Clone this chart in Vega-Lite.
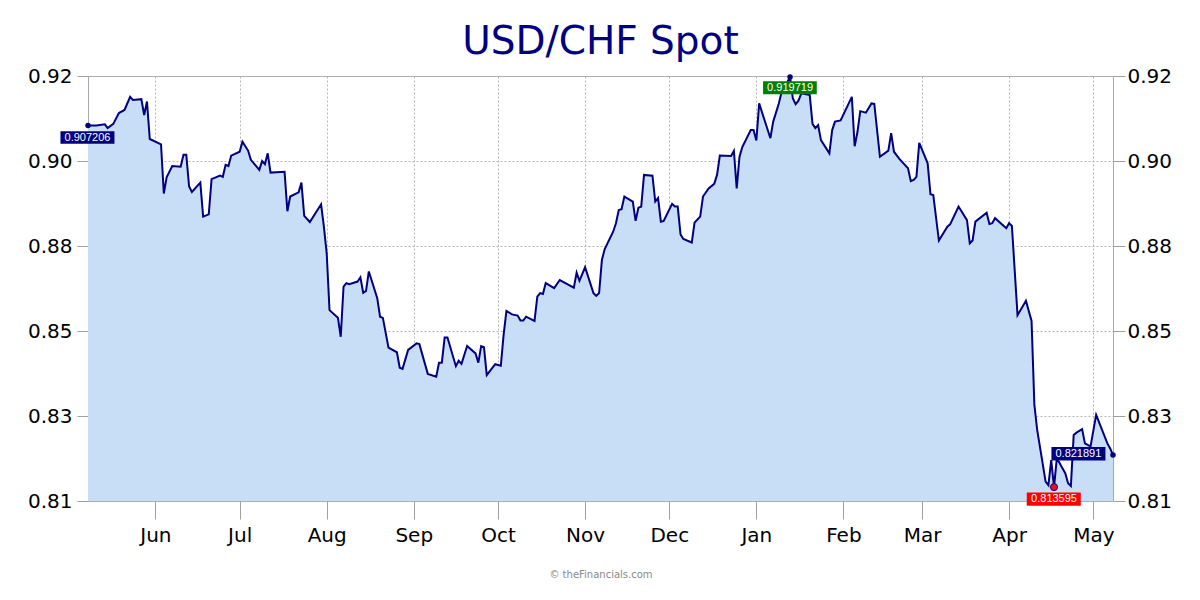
{
  "$schema": "https://vega.github.io/schema/vega-lite/v6.json",
  "width": 1025,
  "height": 425,
  "autosize": {"type": "none"},
  "padding": {"left": 88, "top": 76, "right": 87, "bottom": 99},
  "background": "white",
  "title": {"text": "USD/CHF Spot", "font": "DejaVu Sans", "fontSize": 39, "fontWeight": "normal", "color": "#000080", "anchor": "middle", "baseline": "bottom", "offset": 3, "dy": 38},
  "config": {"view": {"stroke": "#a8a8a8", "strokeWidth": 1}, "font": "DejaVu Sans"},
  "data": {"values": [
    {"date": "2024-05-08", "value": 0.907206, "note": "start"},
    {"date": "2024-05-11", "value": 0.9072},
    {"date": "2024-05-14", "value": 0.9075},
    {"date": "2024-05-15", "value": 0.9065},
    {"date": "2024-05-17", "value": 0.9076},
    {"date": "2024-05-19", "value": 0.9104},
    {"date": "2024-05-21", "value": 0.9112},
    {"date": "2024-05-23", "value": 0.9146},
    {"date": "2024-05-24", "value": 0.9138},
    {"date": "2024-05-27", "value": 0.9140},
    {"date": "2024-05-28", "value": 0.9099},
    {"date": "2024-05-29", "value": 0.9134},
    {"date": "2024-05-30", "value": 0.9037},
    {"date": "2024-06-03", "value": 0.9023},
    {"date": "2024-06-04", "value": 0.8896},
    {"date": "2024-06-05", "value": 0.8938},
    {"date": "2024-06-07", "value": 0.8967},
    {"date": "2024-06-10", "value": 0.8965},
    {"date": "2024-06-11", "value": 0.8996},
    {"date": "2024-06-12", "value": 0.8996},
    {"date": "2024-06-13", "value": 0.8914},
    {"date": "2024-06-14", "value": 0.8900},
    {"date": "2024-06-17", "value": 0.8924},
    {"date": "2024-06-18", "value": 0.8836},
    {"date": "2024-06-20", "value": 0.8842},
    {"date": "2024-06-21", "value": 0.8933},
    {"date": "2024-06-24", "value": 0.8942},
    {"date": "2024-06-25", "value": 0.8939},
    {"date": "2024-06-26", "value": 0.8970},
    {"date": "2024-06-27", "value": 0.8967},
    {"date": "2024-06-28", "value": 0.8994},
    {"date": "2024-07-01", "value": 0.9004},
    {"date": "2024-07-02", "value": 0.9030},
    {"date": "2024-07-04", "value": 0.9007},
    {"date": "2024-07-05", "value": 0.8983},
    {"date": "2024-07-08", "value": 0.8957},
    {"date": "2024-07-09", "value": 0.8980},
    {"date": "2024-07-10", "value": 0.8972},
    {"date": "2024-07-11", "value": 0.9000},
    {"date": "2024-07-12", "value": 0.8950},
    {"date": "2024-07-17", "value": 0.8952},
    {"date": "2024-07-18", "value": 0.8850},
    {"date": "2024-07-19", "value": 0.8888},
    {"date": "2024-07-22", "value": 0.8899},
    {"date": "2024-07-23", "value": 0.8924},
    {"date": "2024-07-24", "value": 0.8838},
    {"date": "2024-07-26", "value": 0.8822},
    {"date": "2024-07-30", "value": 0.8868},
    {"date": "2024-07-31", "value": 0.8810},
    {"date": "2024-08-01", "value": 0.8741},
    {"date": "2024-08-02", "value": 0.8594},
    {"date": "2024-08-05", "value": 0.8574},
    {"date": "2024-08-06", "value": 0.8525},
    {"date": "2024-08-07", "value": 0.8655},
    {"date": "2024-08-08", "value": 0.8664},
    {"date": "2024-08-09", "value": 0.8661},
    {"date": "2024-08-12", "value": 0.8668},
    {"date": "2024-08-13", "value": 0.8679},
    {"date": "2024-08-14", "value": 0.8639},
    {"date": "2024-08-15", "value": 0.8644},
    {"date": "2024-08-16", "value": 0.8694},
    {"date": "2024-08-19", "value": 0.8625},
    {"date": "2024-08-20", "value": 0.8577},
    {"date": "2024-08-21", "value": 0.8574},
    {"date": "2024-08-23", "value": 0.8497},
    {"date": "2024-08-26", "value": 0.8485},
    {"date": "2024-08-27", "value": 0.8445},
    {"date": "2024-08-28", "value": 0.8442},
    {"date": "2024-08-30", "value": 0.8491},
    {"date": "2024-09-02", "value": 0.8508},
    {"date": "2024-09-03", "value": 0.8506},
    {"date": "2024-09-06", "value": 0.8429},
    {"date": "2024-09-09", "value": 0.8422},
    {"date": "2024-09-10", "value": 0.8458},
    {"date": "2024-09-11", "value": 0.8458},
    {"date": "2024-09-12", "value": 0.8523},
    {"date": "2024-09-13", "value": 0.8523},
    {"date": "2024-09-16", "value": 0.8449},
    {"date": "2024-09-17", "value": 0.8463},
    {"date": "2024-09-18", "value": 0.8455},
    {"date": "2024-09-20", "value": 0.8501},
    {"date": "2024-09-23", "value": 0.8482},
    {"date": "2024-09-24", "value": 0.8458},
    {"date": "2024-09-25", "value": 0.8501},
    {"date": "2024-09-26", "value": 0.8498},
    {"date": "2024-09-27", "value": 0.8426},
    {"date": "2024-09-30", "value": 0.8454},
    {"date": "2024-10-02", "value": 0.8450},
    {"date": "2024-10-03", "value": 0.8530},
    {"date": "2024-10-04", "value": 0.8592},
    {"date": "2024-10-06", "value": 0.8583},
    {"date": "2024-10-08", "value": 0.8580},
    {"date": "2024-10-09", "value": 0.8567},
    {"date": "2024-10-10", "value": 0.8567},
    {"date": "2024-10-11", "value": 0.8577},
    {"date": "2024-10-14", "value": 0.8566},
    {"date": "2024-10-15", "value": 0.8629},
    {"date": "2024-10-16", "value": 0.8638},
    {"date": "2024-10-17", "value": 0.8636},
    {"date": "2024-10-18", "value": 0.8664},
    {"date": "2024-10-21", "value": 0.8651},
    {"date": "2024-10-23", "value": 0.8672},
    {"date": "2024-10-25", "value": 0.8664},
    {"date": "2024-10-28", "value": 0.8652},
    {"date": "2024-10-29", "value": 0.8691},
    {"date": "2024-10-30", "value": 0.8670},
    {"date": "2024-11-01", "value": 0.8705},
    {"date": "2024-11-04", "value": 0.8638},
    {"date": "2024-11-05", "value": 0.8631},
    {"date": "2024-11-06", "value": 0.8638},
    {"date": "2024-11-07", "value": 0.8724},
    {"date": "2024-11-08", "value": 0.8752},
    {"date": "2024-11-11", "value": 0.8797},
    {"date": "2024-11-12", "value": 0.8819},
    {"date": "2024-11-13", "value": 0.8853},
    {"date": "2024-11-14", "value": 0.8855},
    {"date": "2024-11-15", "value": 0.8888},
    {"date": "2024-11-18", "value": 0.8875},
    {"date": "2024-11-19", "value": 0.8825},
    {"date": "2024-11-20", "value": 0.8859},
    {"date": "2024-11-21", "value": 0.8862},
    {"date": "2024-11-22", "value": 0.8944},
    {"date": "2024-11-25", "value": 0.8942},
    {"date": "2024-11-26", "value": 0.8875},
    {"date": "2024-11-27", "value": 0.8884},
    {"date": "2024-11-28", "value": 0.8823},
    {"date": "2024-11-29", "value": 0.8825},
    {"date": "2024-12-02", "value": 0.8869},
    {"date": "2024-12-03", "value": 0.8862},
    {"date": "2024-12-04", "value": 0.8862},
    {"date": "2024-12-05", "value": 0.8790},
    {"date": "2024-12-06", "value": 0.8778},
    {"date": "2024-12-09", "value": 0.8769},
    {"date": "2024-12-10", "value": 0.8821},
    {"date": "2024-12-12", "value": 0.8836},
    {"date": "2024-12-13", "value": 0.8888},
    {"date": "2024-12-15", "value": 0.8909},
    {"date": "2024-12-17", "value": 0.8921},
    {"date": "2024-12-18", "value": 0.8944},
    {"date": "2024-12-19", "value": 0.8994},
    {"date": "2024-12-23", "value": 0.8993},
    {"date": "2024-12-24", "value": 0.9006},
    {"date": "2024-12-25", "value": 0.8909},
    {"date": "2024-12-26", "value": 0.8991},
    {"date": "2024-12-27", "value": 0.9016},
    {"date": "2024-12-30", "value": 0.9060},
    {"date": "2024-12-31", "value": 0.9060},
    {"date": "2025-01-01", "value": 0.9033},
    {"date": "2025-01-02", "value": 0.9129},
    {"date": "2025-01-06", "value": 0.9039},
    {"date": "2025-01-07", "value": 0.9082},
    {"date": "2025-01-09", "value": 0.9129},
    {"date": "2025-01-10", "value": 0.9159},
    {"date": "2025-01-11", "value": 0.9171},
    {"date": "2025-01-13", "value": 0.919719, "note": "max"},
    {"date": "2025-01-14", "value": 0.9142},
    {"date": "2025-01-15", "value": 0.9127},
    {"date": "2025-01-16", "value": 0.9136},
    {"date": "2025-01-17", "value": 0.9155},
    {"date": "2025-01-20", "value": 0.9151},
    {"date": "2025-01-21", "value": 0.9076},
    {"date": "2025-01-22", "value": 0.9065},
    {"date": "2025-01-23", "value": 0.9073},
    {"date": "2025-01-24", "value": 0.9034},
    {"date": "2025-01-27", "value": 0.9000},
    {"date": "2025-01-28", "value": 0.9060},
    {"date": "2025-01-29", "value": 0.9082},
    {"date": "2025-01-31", "value": 0.9085},
    {"date": "2025-02-04", "value": 0.9146},
    {"date": "2025-02-05", "value": 0.9018},
    {"date": "2025-02-06", "value": 0.9055},
    {"date": "2025-02-07", "value": 0.9109},
    {"date": "2025-02-09", "value": 0.9105},
    {"date": "2025-02-11", "value": 0.9129},
    {"date": "2025-02-12", "value": 0.9128},
    {"date": "2025-02-14", "value": 0.8991},
    {"date": "2025-02-17", "value": 0.9007},
    {"date": "2025-02-18", "value": 0.9052},
    {"date": "2025-02-19", "value": 0.9004},
    {"date": "2025-02-21", "value": 0.8985},
    {"date": "2025-02-24", "value": 0.8961},
    {"date": "2025-02-25", "value": 0.8928},
    {"date": "2025-02-26", "value": 0.8931},
    {"date": "2025-02-27", "value": 0.8939},
    {"date": "2025-02-28", "value": 0.9027},
    {"date": "2025-03-03", "value": 0.8974},
    {"date": "2025-03-04", "value": 0.8894},
    {"date": "2025-03-05", "value": 0.8892},
    {"date": "2025-03-07", "value": 0.8774},
    {"date": "2025-03-10", "value": 0.8810},
    {"date": "2025-03-11", "value": 0.8816},
    {"date": "2025-03-14", "value": 0.8862},
    {"date": "2025-03-17", "value": 0.8827},
    {"date": "2025-03-18", "value": 0.8767},
    {"date": "2025-03-19", "value": 0.8774},
    {"date": "2025-03-20", "value": 0.8823},
    {"date": "2025-03-24", "value": 0.8846},
    {"date": "2025-03-25", "value": 0.8817},
    {"date": "2025-03-26", "value": 0.8819},
    {"date": "2025-03-27", "value": 0.8832},
    {"date": "2025-03-31", "value": 0.8806},
    {"date": "2025-04-01", "value": 0.8819},
    {"date": "2025-04-02", "value": 0.8812},
    {"date": "2025-04-04", "value": 0.8581},
    {"date": "2025-04-07", "value": 0.8618},
    {"date": "2025-04-09", "value": 0.8566},
    {"date": "2025-04-10", "value": 0.8349},
    {"date": "2025-04-11", "value": 0.8284},
    {"date": "2025-04-14", "value": 0.8150},
    {"date": "2025-04-15", "value": 0.8141},
    {"date": "2025-04-16", "value": 0.8206},
    {"date": "2025-04-17", "value": 0.813595, "note": "min"},
    {"date": "2025-04-18", "value": 0.8211},
    {"date": "2025-04-20", "value": 0.8185},
    {"date": "2025-04-21", "value": 0.8172},
    {"date": "2025-04-22", "value": 0.8146},
    {"date": "2025-04-23", "value": 0.8139},
    {"date": "2025-04-24", "value": 0.8271},
    {"date": "2025-04-25", "value": 0.8277},
    {"date": "2025-04-27", "value": 0.8286},
    {"date": "2025-04-28", "value": 0.8249},
    {"date": "2025-04-29", "value": 0.8245},
    {"date": "2025-04-30", "value": 0.8241},
    {"date": "2025-05-02", "value": 0.8323},
    {"date": "2025-05-06", "value": 0.8249},
    {"date": "2025-05-07", "value": 0.8236},
    {"date": "2025-05-08", "value": 0.821891, "note": "end"}
  ]},
  "encoding": {
    "x": {
      "field": "date", "type": "temporal",
      "scale": {"type": "utc", "domain": [{"year": 2024, "month": 5, "date": 8, "utc": true}, {"year": 2025, "month": 5, "date": 8, "utc": true}]},
      "axis": {
        "tickCount": {"interval": "month", "step": 1},
        "labelExpr": "utcFormat(datum.value, '%b')",
        "labelFontSize": 20, "labelColor": "#000000", "labelFont": "DejaVu Sans",
        "tickSize": 18, "labelPadding": 6, "tickColor": "#a0a0a0",
        "domain": false,
        "grid": true, "gridDash": [2, 2], "gridColor": "#b4b4b4",
        "title": "© theFinancials.com", "titleFontSize": 10, "titleFontWeight": "normal", "titleColor": "#888888", "titlePadding": 24, "titleFont": "DejaVu Sans"
      }
    }
  },
  "layer": [
    {
      "mark": {"type": "area", "color": "#c8def6", "clip": true},
      "encoding": {
        "y": {"field": "value", "type": "quantitative",
          "scale": {"domain": [0.81, 0.92], "nice": false, "zero": false},
          "axis": {"orient": "left", "values": [0.81, 0.832, 0.854, 0.876, 0.898, 0.92], "format": ".2f", "title": null,
            "labelFontSize": 20, "labelColor": "#000000", "labelFont": "DejaVu Sans", "tickSize": 11, "labelPadding": 5, "tickColor": "#a0a0a0",
            "domain": false, "grid": true, "gridDash": [2, 2], "gridColor": "#b4b4b4"}}
      }
    },
    {
      "mark": {"type": "line", "color": "#000080", "strokeWidth": 2, "clip": true},
      "encoding": {
        "y": {"field": "value", "type": "quantitative",
          "axis": {"orient": "right", "values": [0.81, 0.832, 0.854, 0.876, 0.898, 0.92], "format": ".2f", "title": null,
            "labelFontSize": 20, "labelColor": "#000000", "labelFont": "DejaVu Sans", "tickSize": 12, "labelPadding": 2, "tickColor": "#a0a0a0",
            "domain": false, "grid": false}}
      }
    },
    {
      "transform": [{"filter": "datum.note == 'start'"}],
      "mark": {"type": "point", "shape": "M-1.02,0.22H0.98V0.68H-1.02Z", "size": 2916, "filled": true, "color": "#000080", "opacity": 1},
      "encoding": {"y": {"field": "value", "type": "quantitative", "axis": null}}
    },
    {
      "transform": [{"filter": "datum.note == 'max'"}],
      "mark": {"type": "point", "shape": "M-1,0.15H0.99V0.64H-1Z", "size": 2916, "filled": true, "color": "#008000", "opacity": 1},
      "encoding": {"y": {"field": "value", "type": "quantitative", "axis": null}}
    },
    {
      "transform": [{"filter": "datum.note == 'min'"}],
      "mark": {"type": "point", "shape": "M-1.01,0.2H0.99V0.69H-1.01Z", "size": 2916, "filled": true, "color": "#ff0000", "opacity": 1},
      "encoding": {"y": {"field": "value", "type": "quantitative", "axis": null}}
    },
    {
      "transform": [{"filter": "datum.note == 'end'"}],
      "mark": {"type": "point", "shape": "M-2.28,-0.3H-0.28V0.2H-2.28Z", "size": 2916, "filled": true, "color": "#000080", "opacity": 1},
      "encoding": {"y": {"field": "value", "type": "quantitative", "axis": null}}
    },
    {
      "transform": [{"filter": "datum.note == 'start'"}],
      "mark": {"type": "text", "color": "#ffffff", "font": "Liberation Sans", "fontSize": 11, "align": "center", "baseline": "middle", "dx": -0.5, "dy": 12.2},
      "encoding": {"y": {"field": "value", "type": "quantitative", "axis": null}, "text": {"field": "value", "type": "quantitative", "format": ".6f"}}
    },
    {
      "transform": [{"filter": "datum.note == 'max'"}],
      "mark": {"type": "text", "color": "#ffffff", "font": "Liberation Sans", "fontSize": 11, "align": "center", "baseline": "middle", "dx": 0, "dy": 10.7},
      "encoding": {"y": {"field": "value", "type": "quantitative", "axis": null}, "text": {"field": "value", "type": "quantitative", "format": ".6f"}}
    },
    {
      "transform": [{"filter": "datum.note == 'min'"}],
      "mark": {"type": "text", "color": "#ffffff", "font": "Liberation Sans", "fontSize": 11, "align": "center", "baseline": "middle", "dx": 0, "dy": 12},
      "encoding": {"y": {"field": "value", "type": "quantitative", "axis": null}, "text": {"field": "value", "type": "quantitative", "format": ".6f"}}
    },
    {
      "transform": [{"filter": "datum.note == 'end'"}],
      "mark": {"type": "text", "color": "#ffffff", "font": "Liberation Sans", "fontSize": 11, "align": "center", "baseline": "middle", "dx": -34.6, "dy": -1.4},
      "encoding": {"y": {"field": "value", "type": "quantitative", "axis": null}, "text": {"field": "value", "type": "quantitative", "format": ".6f"}}
    },
    {
      "transform": [{"filter": "datum.note == 'start' || datum.note == 'max' || datum.note == 'end'"}],
      "mark": {"type": "circle", "size": 30, "color": "#000080", "opacity": 1},
      "encoding": {"y": {"field": "value", "type": "quantitative", "axis": null}}
    },
    {
      "transform": [{"filter": "datum.note == 'min'"}],
      "mark": {"type": "point", "shape": "circle", "size": 50, "filled": true, "fill": "#e8102a", "stroke": "#000080", "strokeWidth": 1, "opacity": 1},
      "encoding": {"y": {"field": "value", "type": "quantitative", "axis": null}}
    }
  ],
  "resolve": {"scale": {"y": "shared"}, "axis": {"y": "independent"}}
}
